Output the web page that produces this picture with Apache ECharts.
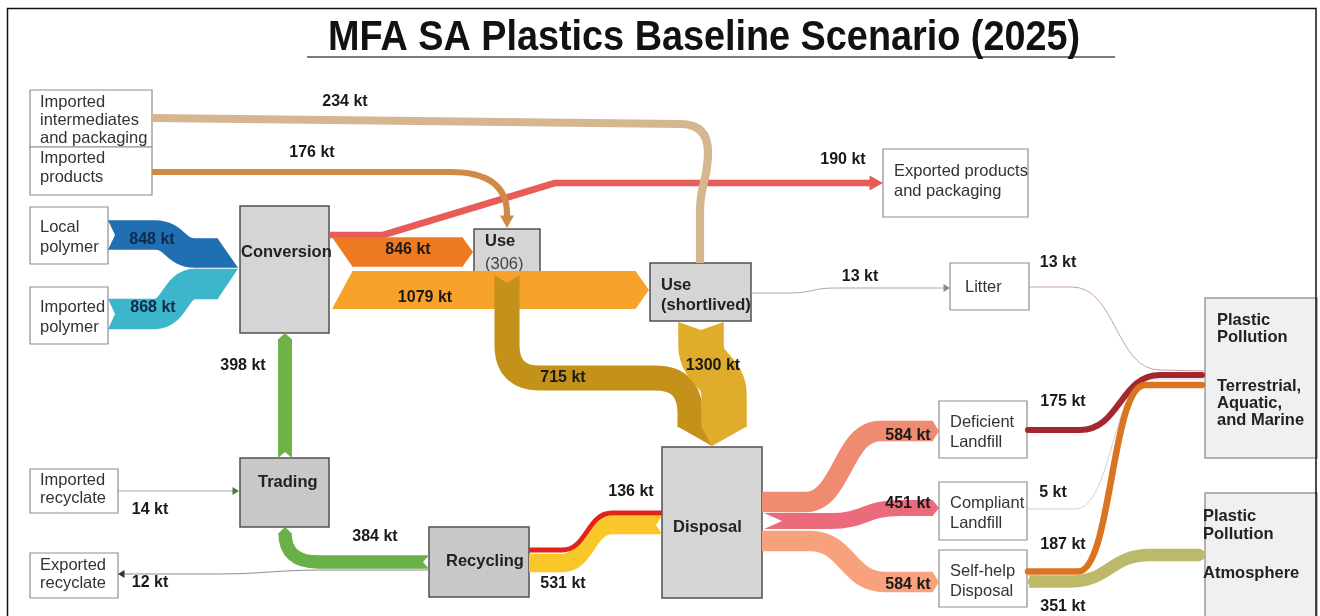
<!DOCTYPE html>
<html lang="en">
<head>
<meta charset="UTF-8">
<title>MFA SA Plastics Baseline Scenario (2025)</title>
<script src="https://cdn.jsdelivr.net/npm/echarts@6/dist/echarts.min.js"></script>
<style>
  html, body { margin: 0; padding: 0; background: #fff; }
  #main { width: 1320px; height: 616px; }
</style>
</head>
<body>
<div id="main"></div>
<script>
var FONT = "'Liberation Sans', Arial, Helvetica, sans-serif";

// ---- data: nodes ----
var nodeNames = ['impInter', 'impProd', 'localPoly', 'impPoly', 'conversion', 'use306', 'useShort',
  'expProd', 'litter', 'ppTerr', 'ppAtm', 'deficient', 'compliant', 'selfhelp', 'disposal',
  'recycling', 'trading', 'impRecy', 'expRecy'];
var nodeLabels = ['Imported\nintermediates\nand packaging', 'Imported\nproducts', 'Local\npolymer',
  'Imported\npolymer', 'Conversion', '{b|Use}\n{n|(306)}', 'Use\n(shortlived)',
  'Exported products\nand packaging', 'Litter',
  'Plastic\nPollution\n{g1| }\nTerrestrial,\nAquatic,\nand Marine',
  'Plastic\nPollution\n{g2| }\nAtmosphere',
  'Deficient\nLandfill', 'Compliant\nLandfill', 'Self-help\nDisposal', 'Disposal', 'Recycling',
  'Trading', 'Imported\nrecyclate', 'Exported\nrecyclate'];

// ---- data: flows (kt) ----
var flowFrom = ['useShort', 'litter', 'compliant', 'impRecy', 'recycling', 'conversion', 'impInter',
  'impProd', 'localPoly', 'impPoly', 'conversion', 'conversion', 'use306', 'useShort', 'trading',
  'recycling', 'disposal', 'recycling', 'disposal', 'disposal', 'disposal', 'deficient',
  'selfhelp', 'selfhelp'];
var flowTo = ['litter', 'ppTerr', 'ppTerr', 'trading', 'expRecy', 'expProd', 'useShort', 'use306',
  'conversion', 'conversion', 'use306', 'useShort', 'disposal', 'disposal', 'conversion',
  'trading', 'recycling', 'disposal', 'deficient', 'selfhelp', 'compliant', 'ppTerr', 'ppAtm',
  'ppTerr'];
var flowValues = [13, 13, 5, 14, 12, 190, 234, 176, 848, 868, 846, 1079, 715, 1300, 398, 384,
  531, 136, 584, 584, 451, 175, 351, 187];
var unit = ' kt';

// ---- layout ----
var KT_WIDTH = 0.035; // ribbon width per kt

// [x0, y0, x1, y1]
var nodeBoxes = {
  impInter: [30, 90, 152, 147], impProd: [30, 147, 152, 195],
  localPoly: [30, 207, 108, 264], impPoly: [30, 287, 108, 344],
  conversion: [240, 206, 329, 333], use306: [474, 229, 540, 276],
  useShort: [650, 263, 751, 321], expProd: [883, 149, 1028, 217],
  litter: [950, 263, 1029, 310], ppTerr: [1205, 298, 1317, 458],
  ppAtm: [1205, 493, 1317, 640], deficient: [939, 401, 1027, 458],
  compliant: [939, 482, 1027, 540], selfhelp: [939, 550, 1027, 607],
  disposal: [662, 447, 762, 598], recycling: [429, 527, 529, 597],
  trading: [240, 458, 329, 527], impRecy: [30, 469, 118, 513],
  expRecy: [30, 553, 118, 598]
};
// [textX, textTop, lineHeight]
var nodeText = {
  impInter: [40, 93, 18], impProd: [40, 148.5, 19], localPoly: [40, 217, 20],
  impPoly: [40, 297, 20], conversion: [241, 242, 20], use306: [485, 230, 23],
  useShort: [661, 275, 20], expProd: [894, 162, 19.5], litter: [965, 277, 20],
  ppTerr: [1217, 311.5, 17], ppAtm: [1203, 507, 18], deficient: [950, 412, 20],
  compliant: [950, 493, 20], selfhelp: [950, 561, 20], disposal: [673, 517, 20],
  recycling: [446, 551, 20], trading: [258, 472, 20], impRecy: [40, 472, 17.5],
  expRecy: [40, 556, 18]
};
var nodeKind = {
  impInter: 'w', impProd: 'w', localPoly: 'w', impPoly: 'w', conversion: 'g', use306: 'g',
  useShort: 'g', expProd: 'w', litter: 'w', ppTerr: 'p', ppAtm: 'p', deficient: 'w',
  compliant: 'w', selfhelp: 'w', disposal: 'g', recycling: 't', trading: 't', impRecy: 'w',
  expRecy: 'w'
};
var kindStyle = {
  w: { fill: '#ffffff', stroke: '#8d8d8d', lw: 1.2, weight: 'normal', text: '#333333' },
  g: { fill: '#d5d5d5', stroke: '#505050', lw: 1.5, weight: 'bold', text: '#222222' },
  t: { fill: '#c8c8c8', stroke: '#505050', lw: 1.5, weight: 'bold', text: '#222222' },
  p: { fill: '#f0f0f0', stroke: '#9a9a9a', lw: 1.5, weight: 'bold', text: '#222222' }
};
var richStyles = {
  b: { fontSize: 16.5, fontFamily: FONT, fontWeight: 'bold', fill: '#222222' },
  n: { fontSize: 16.5, fontFamily: FONT, fontWeight: 'normal', fill: '#444444' },
  g1: { fontSize: 16.5, fontFamily: FONT, lineHeight: 32 },
  g2: { fontSize: 16.5, fontFamily: FONT, lineHeight: 21 }
};

// route points [x, y, segmentMode]; modes: l straight, s horizontal S, v vertical S,
// hv horizontal-then-vertical bend, vh vertical-then-horizontal bend
var flowRoutes = [
  [[751, 293], [790, 293], [835, 288, 's'], [944, 288]],
  [[1029, 287], [1072, 287], [1160, 370, 's'], [1205, 371]],
  [[1028, 509], [1075, 509], [1150, 379, 's'], [1205, 379]],
  [[118, 491], [233, 491]],
  [[428, 570], [330, 570], [210, 574, 's'], [124, 574]],
  [[329, 235], [383, 235], [555, 183], [870, 183]],
  [[152, 118], [680, 124], [708, 152, 'hv'], [700, 212, 'v'], [700, 263]],
  [[152, 172], [450, 172], [507, 214, 'hv'], [507, 216]],
  [[115, 235], [155, 235], [195, 253, 's'], [218, 253]],
  [[115, 314], [155, 314], [195, 284, 's'], [218, 284]],
  [[352, 252], [463, 252]],
  [[352, 290], [636, 290]],
  [[507, 283], [507, 345], [540, 378, 'vh'], [655, 378], [690, 413, 'hv'], [690, 427]],
  [[701, 330], [701, 345], [724, 395, 'v'], [724, 427]],
  [[285, 452], [285, 339]],
  [[423, 562], [318, 562], [285, 533, 'hv']],
  [[656, 525], [612, 525], [562, 563, 's'], [529, 563]],
  [[529, 550], [562, 550], [612, 513, 's'], [662, 513]],
  [[762, 502], [805, 502], [880, 431, 's'], [933, 431]],
  [[762, 541], [810, 541], [885, 582, 's'], [933, 582]],
  [[782, 521], [830, 521], [900, 508, 's'], [933, 508]],
  [[1028, 430], [1080, 430], [1160, 375, 's'], [1202, 375]],
  [[1034, 581.5], [1070, 581.5], [1150, 555, 's'], [1199, 555]],
  [[1028, 571.5], [1078, 571.5], [1145, 385, 's'], [1202, 385]]
];
var flowColors = ['#a8a8a8', '#c9a0a8', '#d2d2d2', '#a5a5a5', '#8c8c8c', '#E85C57', '#D6B68E',
  '#D08A46', '#1F6FB2', '#3DB6CB', '#EE7A21', '#F6A22B', '#C4911A', '#DFAC2C', '#6FB347',
  '#6AB04A', '#F9C72A', '#E2231A', '#EF8B70', '#F7A27D', '#EC6B7B', '#A3272E', '#BDB96B',
  '#DA7421'];
var flowHeads = [
  { d: 6, w: 4, c: '#8a8a8a' }, null, null, { d: 6, w: 4, c: '#4a7a3c' }, { d: 6, w: 4, c: '#333333' },
  { d: 13, w: 7.5 }, null, { d: 12, w: 7 }, { d: 20, t: -1 }, { d: 20, t: 1 }, { d: 10 }, { d: 13 },
  { d: 19, t: 1.76 }, { d: 19, t: -0.53 }, { d: 6 }, { d: 6 }, null, null, { d: 6 }, { d: 6 },
  { d: 6 }, null, null, null
];
var flowTails = [
  null, null, null, null, null, null, null, null, { d: 7 }, { d: 7 }, { d: 20, t: -1 },
  { d: 20, t: 1 }, { d: 8 }, { d: 8 }, { d: 6 }, { d: 6 }, { d: 6 }, null, null, null,
  { d: 18 }, null, { d: 6 }, null
];
var flowCaps = ['butt', 'butt', 'butt', 'butt', 'butt', 'butt', 'butt', 'butt', 'butt', 'butt',
  'butt', 'butt', 'butt', 'butt', 'butt', 'butt', 'butt', 'butt', 'butt', 'butt', 'butt',
  'round', 'round', 'round'];
var flowLabelPos = [[860, 277], [1058, 263], [1053, 493], [150, 510], [150, 583], [843, 160],
  [345, 102], [312, 153], [152, 240], [153, 308], [408, 250], [425, 298], [563, 378],
  [713, 366], [243, 366], [375, 537], [563, 584], [631, 492], [908, 436], [908, 585],
  [908, 504], [1063, 402], [1063, 607], [1063, 545]];
var flowLabelColors = flowValues.map(function (v, i) {
  return (i === 8 || i === 9) ? '#0f2a4a' : '#1a1a1a';
});

// ---- helpers ----
function pt(E, dir, a, nv, b) {
  return [E[0] + dir[0] * a + nv[0] * b, E[1] + dir[1] * a + nv[1] * b];
}
function dirOf(a, b, mode, atEnd) {
  var dx = b[0] - a[0], dy = b[1] - a[1];
  if (mode === 's' || (mode === 'hv' && !atEnd) || (mode === 'vh' && atEnd)) return [Math.sign(dx) || 1, 0];
  if (mode === 'v' || (mode === 'hv' && atEnd) || (mode === 'vh' && !atEnd)) return [0, Math.sign(dy) || 1];
  var l = Math.hypot(dx, dy) || 1;
  return [dx / l, dy / l];
}

function renderNode(params, api) {
  var i = api.value(0);
  var id = nodeNames[i];
  var b = nodeBoxes[id];
  var p0 = api.coord([b[0], b[1]]);
  var p1 = api.coord([b[2], b[3]]);
  var k = kindStyle[nodeKind[id]];
  var t = nodeText[id];
  var tp = api.coord([t[0], t[1]]);
  return {
    type: 'group',
    children: [{
      type: 'rect',
      shape: { x: p0[0], y: p0[1], width: p1[0] - p0[0], height: p1[1] - p0[1] },
      style: { fill: k.fill, stroke: k.stroke, lineWidth: k.lw }
    }, {
      type: 'text',
      style: {
        text: nodeLabels[i], x: tp[0], y: tp[1], align: 'left', verticalAlign: 'top',
        lineHeight: t[2], fontSize: 16.5, fontFamily: FONT, fontWeight: k.weight,
        fill: k.text, rich: richStyles
      }
    }]
  };
}

function renderFlow(params, api) {
  var i = api.value(0);
  var route = flowRoutes[i];
  var color = flowColors[i];
  var pts = route.map(function (p) { return api.coord([p[0], p[1]]); });
  var w = Math.max(1, api.size([0, flowValues[i] * KT_WIDTH])[1]);
  var h = w / 2;
  var d = 'M' + pts[0][0] + ' ' + pts[0][1];
  for (var k = 1; k < pts.length; k++) {
    var a = pts[k - 1], b = pts[k], mode = route[k][2] || 'l';
    if (mode === 's') {
      var mx = (a[0] + b[0]) / 2;
      d += ' C' + mx + ' ' + a[1] + ' ' + mx + ' ' + b[1] + ' ' + b[0] + ' ' + b[1];
    } else if (mode === 'v') {
      var my = (a[1] + b[1]) / 2;
      d += ' C' + a[0] + ' ' + my + ' ' + b[0] + ' ' + my + ' ' + b[0] + ' ' + b[1];
    } else if (mode === 'hv') {
      d += ' Q' + b[0] + ' ' + a[1] + ' ' + b[0] + ' ' + b[1];
    } else if (mode === 'vh') {
      d += ' Q' + a[0] + ' ' + b[1] + ' ' + b[0] + ' ' + b[1];
    } else {
      d += ' L' + b[0] + ' ' + b[1];
    }
  }
  var children = [{
    type: 'path',
    shape: { pathData: d },
    style: { fill: 'none', stroke: color, lineWidth: w, lineCap: flowCaps[i], lineJoin: 'round' }
  }];

  var head = flowHeads[i];
  if (head) {
    var n = pts.length;
    var E = pts[n - 1];
    var dir = dirOf(pts[n - 2], E, route[n - 1][2], true);
    var nv = [dir[1], -dir[0]];
    var hw = head.w != null ? head.w : h;
    var tt = head.t || 0;
    children.push({
      type: 'polygon',
      shape: { points: [pt(E, dir, -0.5, nv, hw), pt(E, dir, -0.5, nv, -hw), pt(E, dir, head.d, nv, tt * h)] },
      style: { fill: head.c || color }
    });
  }
  var tail = flowTails[i];
  if (tail) {
    var S = pts[0];
    var sd = dirOf(S, pts[1], route[1][2], false);
    var sn = [sd[1], -sd[0]];
    var ts = tail.t || 0;
    var A = pt(S, sd, 0.5, sn, h), B = pt(S, sd, -tail.d, sn, h), C = pt(S, sd, 0, sn, ts * h),
      D = pt(S, sd, -tail.d, sn, -h), F = pt(S, sd, 0.5, sn, -h);
    var poly = ts <= -1 ? [A, B, F] : (ts >= 1 ? [A, D, F] : [A, B, C, D, F]);
    children.push({ type: 'polygon', shape: { points: poly }, style: { fill: color } });
  }
  return { type: 'group', children: children };
}

function renderFlowLabel(params, api) {
  var i = api.value(0);
  var p = api.coord(flowLabelPos[i]);
  return {
    type: 'text',
    style: {
      text: flowValues[i] + unit, x: p[0], y: p[1], align: 'center', verticalAlign: 'middle',
      fontSize: 16, fontWeight: 'bold', fontFamily: FONT, fill: flowLabelColors[i]
    }
  };
}

var chartDom = document.getElementById('main');
var myChart = echarts.init(chartDom);
var option = {
  backgroundColor: '#ffffff',
  animation: false,
  grid: { left: 0, right: 0, top: 0, bottom: 0 },
  xAxis: { type: 'value', min: 0, max: 1320, show: false },
  yAxis: { type: 'value', min: 0, max: 616, inverse: true, show: false },
  graphic: [
    {
      type: 'rect', silent: true, z: 10,
      shape: { x: 7.5, y: 8.5, width: 1308.5, height: 640 },
      style: { fill: 'none', stroke: '#111111', lineWidth: 1.5 }
    },
    {
      type: 'line', silent: true,
      shape: { x1: 307, y1: 57, x2: 1115, y2: 57 },
      style: { stroke: '#7a7a7a', lineWidth: 2 }
    },
    {
      type: 'text', silent: true, x: 704, y: 38, scaleX: 0.9,
      style: {
        text: 'MFA SA Plastics Baseline Scenario (2025)', x: 0, y: 0,
        align: 'center', verticalAlign: 'middle',
        font: 'bold 42px ' + FONT, fill: '#111111'
      }
    }
  ],
  series: [
    {
      type: 'custom', name: 'nodes', silent: true, z: 2,
      renderItem: renderNode,
      data: nodeNames.map(function (n, i) { return [i, 0]; })
    },
    {
      type: 'custom', name: 'flows', silent: true, z: 3,
      renderItem: renderFlow,
      data: flowValues.map(function (v, i) { return [i, v]; })
    },
    {
      type: 'custom', name: 'labels', silent: true, z: 4,
      renderItem: renderFlowLabel,
      data: flowValues.map(function (v, i) { return [i, v]; })
    }
  ]
};
myChart.setOption(option);
window.addEventListener('resize', function () {
  myChart.resize();
});
</script>
</body>
</html>
